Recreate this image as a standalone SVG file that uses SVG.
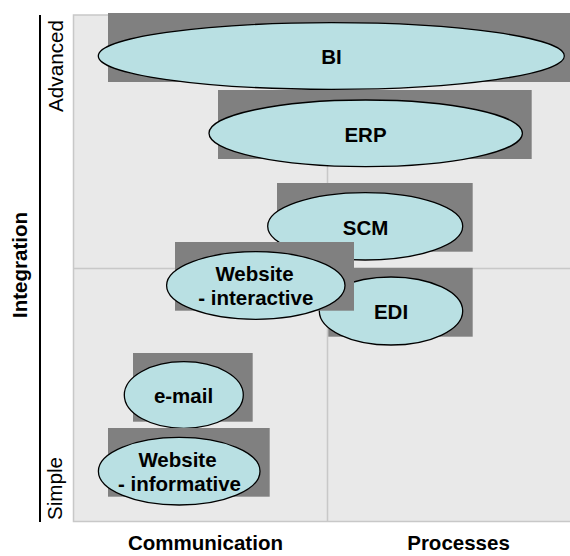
<svg xmlns="http://www.w3.org/2000/svg" width="570" height="556" viewBox="0 0 570 556">
<style>
  .panel { fill: #e9e9e9; stroke: #c8c8c8; stroke-width: 1.5; }
  .grid { stroke: #c8c8c8; stroke-width: 1.5; fill: none; }
  .shadow { fill: #808080; }
  .ell { fill: #b9e0e3; stroke: #000; stroke-width: 1.3; }
  .lbl { font-family: "Liberation Sans", Arial, sans-serif; font-size: 20.5px; font-weight: bold; fill: #000; text-anchor: middle; }
  .axis { font-family: "Liberation Sans", Arial, sans-serif; font-size: 20.7px; fill: #000; text-anchor: middle; }
  .axisb { font-family: "Liberation Sans", Arial, sans-serif; font-size: 20.5px; font-weight: bold; fill: #000; text-anchor: middle; }
</style>
<rect x="0" y="0" width="570" height="556" fill="#fff"/>
<g id="background">
  <rect class="panel" x="73.5" y="15" width="500" height="506.5"/>
  <line class="grid" x1="327.5" y1="15" x2="327.5" y2="521.5"/>
  <line class="grid" x1="73.5" y1="268.5" x2="570" y2="268.5"/>
  <line x1="40" y1="15" x2="40" y2="522" stroke="#000" stroke-width="2"/>
</g>
<g id="axis-labels">
  <text class="axisb" transform="translate(27,265) rotate(-90)">Integration</text>
  <text class="axis" transform="translate(63.3,66) rotate(-90)">Advanced</text>
  <text class="axis" transform="translate(62,488.5) rotate(-90)">Simple</text>
  <text class="axisb" x="205.5" y="550">Communication</text>
  <text class="axisb" x="458.5" y="550">Processes</text>
</g>
<g id="connectors"></g>
<g id="node-bi">
  <rect class="shadow" x="108" y="13" width="462" height="69"/>
  <ellipse class="ell" cx="331.3" cy="56" rx="233" ry="33.3"/>
  <text class="lbl" x="331.5" y="64">BI</text>
</g>
<g id="node-erp">
  <rect class="shadow" x="218" y="90" width="313.7" height="69"/>
  <ellipse class="ell" cx="365.7" cy="133.3" rx="156.7" ry="33.3"/>
  <text class="lbl" x="365.5" y="141.5">ERP</text>
</g>
<g id="node-scm">
  <rect class="shadow" x="277" y="183" width="195.7" height="68.7"/>
  <ellipse class="ell" cx="365.2" cy="226.3" rx="97.5" ry="33.7"/>
  <text class="lbl" x="365.5" y="234.5">SCM</text>
</g>
<g id="node-edi">
  <rect class="shadow" x="328.3" y="267.8" width="144.4" height="68.9"/>
  <ellipse class="ell" cx="391" cy="311" rx="71.7" ry="34"/>
  <text class="lbl" x="391" y="319">EDI</text>
</g>
<g id="node-website-interactive">
  <rect class="shadow" x="175" y="242" width="179" height="68.7"/>
  <ellipse class="ell" cx="255.8" cy="285.5" rx="89.2" ry="33.8"/>
  <text class="lbl" x="254.5" y="280.7">Website</text>
  <text class="lbl" x="255.8" y="305">- interactive</text>
</g>
<g id="node-email">
  <rect class="shadow" x="133" y="353" width="119.7" height="68.7"/>
  <ellipse class="ell" cx="183.8" cy="395" rx="59.5" ry="33.3"/>
  <text class="lbl" x="183.5" y="403">e-mail</text>
</g>
<g id="node-website-informative">
  <rect class="shadow" x="108" y="428" width="161.7" height="68.7"/>
  <ellipse class="ell" cx="179.2" cy="471.2" rx="80.8" ry="33.8"/>
  <text class="lbl" x="177.5" y="467">Website</text>
  <text class="lbl" x="179.5" y="491">- informative</text>
</g>
</svg>
